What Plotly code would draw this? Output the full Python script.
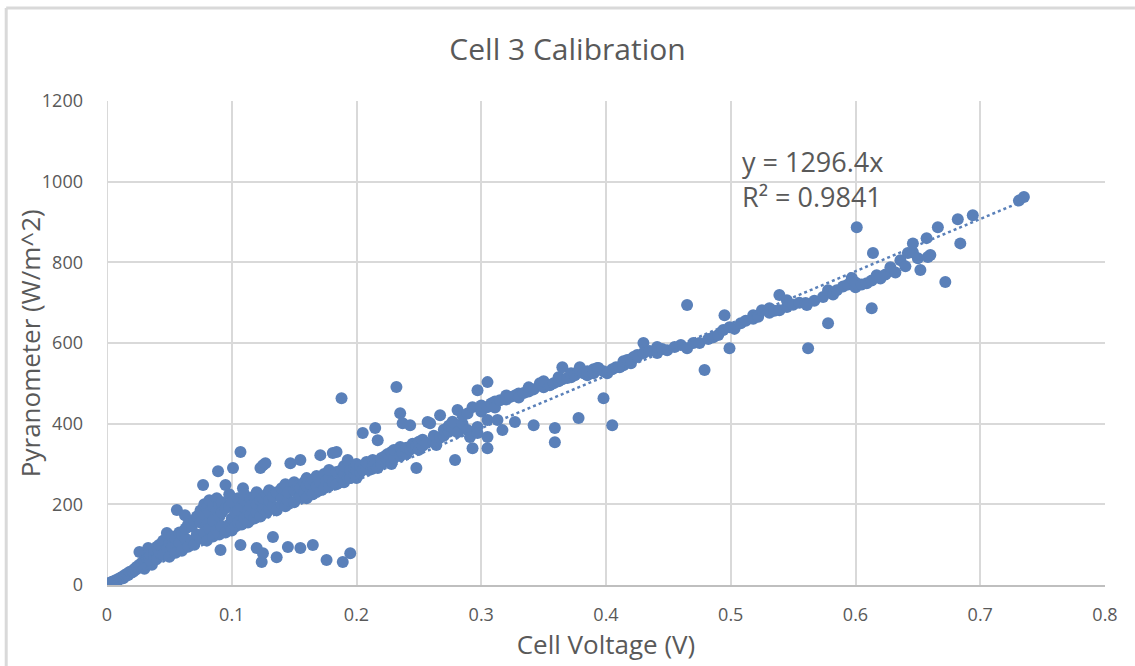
import plotly.graph_objects as go

# Cell voltage (V) and pyranometer (W/m^2) readings
pts = [
    (0.000, 0), (0.001, 3), (0.002, 5), (0.003, 2), (0.004, 8), (0.005, 6), (0.006, 10), (0.007, 12),
    (0.008, 9), (0.009, 15), (0.010, 14), (0.011, 18), (0.012, 20), (0.013, 17), (0.014, 24), (0.015, 22),
    (0.016, 28), (0.017, 25), (0.018, 32), (0.019, 30), (0.020, 35), (0.021, 33), (0.022, 40), (0.023, 38),
    (0.024, 45), (0.025, 42), (0.026, 50), (0.026, 82), (0.027, 47), (0.028, 55), (0.029, 52), (0.030, 60),
    (0.031, 57), (0.032, 65), (0.033, 62), (0.033, 92), (0.034, 70), (0.030, 40), (0.036, 50),
    (0.035, 60), (0.035, 75), (0.038, 70), (0.038, 85), (0.040, 65), (0.040, 95), (0.042, 80), (0.042, 100),
    (0.045, 75), (0.045, 110), (0.048, 90), (0.048, 129), (0.050, 70), (0.050, 105), (0.052, 95), (0.052, 120),
    (0.055, 80), (0.055, 115), (0.056, 186), (0.058, 105), (0.058, 130), (0.060, 85), (0.060, 125),
    (0.0625, 173), (0.063, 115), (0.063, 140), (0.065, 95), (0.065, 150), (0.068, 110), (0.068, 145),
    (0.070, 100), (0.070, 160), (0.072, 125), (0.072, 170), (0.075, 115), (0.075, 155), (0.075, 185),
    (0.077, 248), (0.078, 130), (0.078, 175), (0.078, 200), (0.080, 110), (0.080, 150), (0.080, 190),
    (0.082, 140), (0.082, 180), (0.082, 210), (0.085, 120), (0.085, 160), (0.085, 195), (0.088, 135),
    (0.088, 185), (0.088, 215), (0.089, 282), (0.090, 125), (0.090, 170), (0.090, 200), (0.091, 87),
    (0.092, 145), (0.092, 180), (0.092, 205), (0.095, 248), (0.095, 130), (0.095, 190), (0.098, 150),
    (0.098, 195), (0.098, 225), (0.100, 135), (0.100, 165), (0.100, 205), (0.101, 290), (0.103, 145),
    (0.103, 180), (0.105, 155), (0.105, 185), (0.105, 215), (0.107, 330), (0.107, 99), (0.108, 150),
    (0.108, 195), (0.109, 240), (0.110, 165), (0.110, 210), (0.110, 225), (0.113, 155), (0.113, 185),
    (0.115, 175), (0.115, 215), (0.115, 195), (0.118, 165), (0.118, 220), (0.120, 92), (0.120, 180),
    (0.120, 200), (0.120, 230), (0.123, 290), (0.123, 170), (0.123, 210), (0.124, 57), (0.125, 79),
    (0.125, 297), (0.125, 190), (0.125, 215), (0.127, 302), (0.128, 180), (0.128, 225), (0.130, 190),
    (0.130, 210), (0.130, 235), (0.133, 119), (0.133, 195), (0.133, 220), (0.136, 69), (0.136, 185),
    (0.136, 230), (0.140, 200), (0.140, 215), (0.140, 240), (0.143, 195), (0.143, 250), (0.145, 94),
    (0.145, 210), (0.145, 230), (0.147, 302), (0.150, 205), (0.150, 235), (0.150, 255), (0.153, 215),
    (0.153, 245), (0.155, 92), (0.155, 310), (0.155, 220), (0.155, 240), (0.158, 230), (0.158, 255),
    (0.160, 215), (0.160, 245), (0.160, 265), (0.163, 235), (0.163, 250), (0.165, 99), (0.165, 225),
    (0.165, 260), (0.168, 245), (0.168, 270), (0.171, 322), (0.171, 235), (0.171, 255), (0.174, 240),
    (0.174, 275), (0.176, 62), (0.176, 260), (0.178, 245), (0.178, 265), (0.178, 285), (0.181, 327),
    (0.181, 255), (0.184, 330), (0.184, 250), (0.184, 280), (0.188, 463), (0.188, 265), (0.188, 285),
    (0.189, 57), (0.190, 255), (0.190, 275), (0.190, 295), (0.193, 310), (0.193, 265), (0.195, 79),
    (0.195, 265), (0.195, 285), (0.198, 275), (0.198, 290), (0.200, 265), (0.200, 285), (0.200, 300),
    (0.203, 280), (0.203, 295), (0.205, 377), (0.205, 285), (0.208, 290), (0.208, 305), (0.210, 285),
    (0.210, 300), (0.213, 295), (0.213, 310), (0.215, 389), (0.215, 300), (0.217, 359), (0.217, 290),
    (0.220, 300), (0.220, 315), (0.223, 305), (0.223, 320), (0.225, 310), (0.225, 325), (0.228, 300),
    (0.228, 330), (0.230, 315), (0.230, 335), (0.232, 491), (0.235, 426), (0.235, 320), (0.235, 342),
    (0.237, 401), (0.237, 327), (0.240, 325), (0.240, 340), (0.243, 396), (0.243, 335), (0.245, 342),
    (0.245, 350), (0.248, 290), (0.248, 345), (0.250, 335), (0.250, 355), (0.253, 345), (0.253, 360),
    (0.256, 352), (0.257, 404), (0.259, 401), (0.262, 355), (0.262, 370), (0.264, 347), (0.267, 421),
    (0.267, 365), (0.270, 370), (0.270, 385), (0.274, 380), (0.274, 395), (0.277, 390), (0.277, 405),
    (0.279, 310), (0.281, 434), (0.281, 379), (0.285, 400), (0.285, 420), (0.289, 384), (0.289, 425),
    (0.291, 367), (0.293, 441), (0.293, 339), (0.297, 483), (0.297, 392), (0.297, 377), (0.300, 430),
    (0.300, 445), (0.305, 503), (0.305, 441), (0.305, 409), (0.305, 367), (0.305, 339), (0.308, 450),
    (0.311, 455), (0.311, 440), (0.313, 409), (0.315, 458), (0.317, 384), (0.320, 460), (0.320, 470),
    (0.323, 466), (0.327, 404), (0.327, 470), (0.330, 475), (0.330, 465), (0.334, 476), (0.338, 480),
    (0.338, 490), (0.342, 396), (0.342, 485), (0.347, 500), (0.350, 490), (0.350, 505), (0.355, 495),
    (0.358, 500), (0.359, 389), (0.359, 354), (0.362, 505), (0.362, 515), (0.365, 540), (0.365, 510),
    (0.369, 513), (0.372, 515), (0.372, 525), (0.375, 520), (0.378, 414), (0.378, 530), (0.379, 540),
    (0.379, 533), (0.382, 525), (0.385, 520), (0.385, 530), (0.390, 525), (0.390, 535), (0.393, 538),
    (0.394, 538), (0.398, 463), (0.398, 530), (0.401, 525), (0.405, 396), (0.405, 535), (0.408, 540),
    (0.411, 540), (0.414, 545), (0.414, 555), (0.417, 558), (0.420, 550), (0.420, 560), (0.422, 565),
    (0.425, 565), (0.425, 570), (0.430, 600), (0.430, 575), (0.435, 580), (0.441, 575), (0.441, 590),
    (0.445, 585), (0.449, 582), (0.455, 590), (0.460, 595), (0.465, 694), (0.465, 587), (0.470, 600),
    (0.475, 600), (0.479, 533), (0.482, 610), (0.486, 614), (0.490, 620), (0.494, 632), (0.495, 669),
    (0.499, 639), (0.499, 587), (0.503, 635), (0.508, 649), (0.512, 655), (0.518, 669), (0.518, 660),
    (0.522, 665), (0.525, 681), (0.531, 686), (0.531, 675), (0.535, 680), (0.539, 719), (0.539, 681),
    (0.545, 689), (0.545, 706), (0.550, 695), (0.555, 700), (0.560, 699), (0.561, 694), (0.562, 587),
    (0.567, 705), (0.574, 714), (0.578, 731), (0.578, 649), (0.582, 720), (0.585, 731), (0.590, 740),
    (0.594, 745), (0.597, 761), (0.600, 738), (0.600, 750), (0.601, 887), (0.605, 745), (0.609, 748),
    (0.613, 686), (0.613, 755), (0.614, 823), (0.617, 768), (0.620, 760), (0.624, 770), (0.628, 788),
    (0.632, 775), (0.636, 805), (0.640, 790), (0.642, 823), (0.646, 825), (0.646, 847), (0.650, 810),
    (0.652, 781), (0.657, 860), (0.658, 813), (0.660, 818), (0.666, 887), (0.672, 751), (0.682, 907),
    (0.684, 847), (0.694, 917), (0.731, 953), (0.735, 962),
]
voltage = [p[0] for p in pts]
irradiance = [p[1] for p in pts]

slope = 1296.4
trend_x = [min(voltage), max(voltage)]
trend_y = [slope * v for v in trend_x]

x_ticks = [0, 0.1, 0.2, 0.3, 0.4, 0.5, 0.6, 0.7, 0.8]
x_labels = ["0", "0.1", "0.2", "0.3", "0.4", "0.5", "0.6", "0.7", "0.8"]
y_ticks = [0, 200, 400, 600, 800, 1000, 1200]

BLUE = "#5A80B9"
TXT = "#595959"
GRID = "#D9D9D9"
FONT = "Open Sans, Lato, sans-serif"

fig = go.Figure()
fig.add_trace(go.Scatter(x=voltage, y=irradiance, mode="markers",
                         marker=dict(color=BLUE, size=12, line=dict(width=0)),
                         showlegend=False))
fig.add_trace(go.Scatter(x=trend_x, y=trend_y, mode="lines",
                         line=dict(color=BLUE, width=2.5, dash="dot"),
                         showlegend=False))

fig.update_layout(
    width=1135, height=666,
    margin=dict(l=107, r=30, t=101, b=81),
    paper_bgcolor="white", plot_bgcolor="white",
    font=dict(family=FONT, color=TXT),
    title=dict(text="Cell 3 Calibration", x=0.5, xanchor="center", y=0.925, yanchor="middle",
               font=dict(size=30, color=TXT, family=FONT)),
    xaxis=dict(range=[0, 0.8], tickvals=x_ticks, ticktext=x_labels, showgrid=True,
               gridcolor=GRID, gridwidth=2, zeroline=False, showline=True, linecolor="#BFBFBF",
               linewidth=2, ticks="", tickfont=dict(size=18, color=TXT), ticklabelstandoff=12,
               title=dict(text="Cell Voltage (V)", font=dict(size=26, color=TXT), standoff=6)),
    yaxis=dict(range=[0, 1200], tickvals=y_ticks, showgrid=True, gridcolor=GRID, gridwidth=2,
               zeroline=False, showline=False, ticks="", tickfont=dict(size=18, color=TXT),
               ticklabelstandoff=23),
    annotations=[
        dict(text="y = 1296.4x<br>R² = 0.9841", x=0.634, y=1006, xref="paper", yref="y",
             showarrow=False, xanchor="left", yanchor="middle", align="left",
             font=dict(size=27, color=TXT, family=FONT)),
        dict(text="Pyranometer (W/m^2)", textangle=-90, x=-0.077, y=0.5, xref="paper",
             yref="paper", showarrow=False, xanchor="center", yanchor="middle",
             font=dict(size=26, color=TXT, family=FONT)),
    ],
    shapes=[
        dict(type="line", xref="paper", yref="paper", x0=-0.101, x1=1.03, y0=1.192, y1=1.192,
             line=dict(color=GRID, width=3)),
        dict(type="line", xref="paper", yref="paper", x0=-0.101, x1=-0.101, y0=1.192, y1=-0.17,
             line=dict(color=GRID, width=3)),
    ],
)
fig.add_shape(type="line", xref="x", yref="y", x0=0, x1=0, y0=0, y1=1200,
              line=dict(color=GRID, width=2), layer="below")

fig.write_html("out.html")
